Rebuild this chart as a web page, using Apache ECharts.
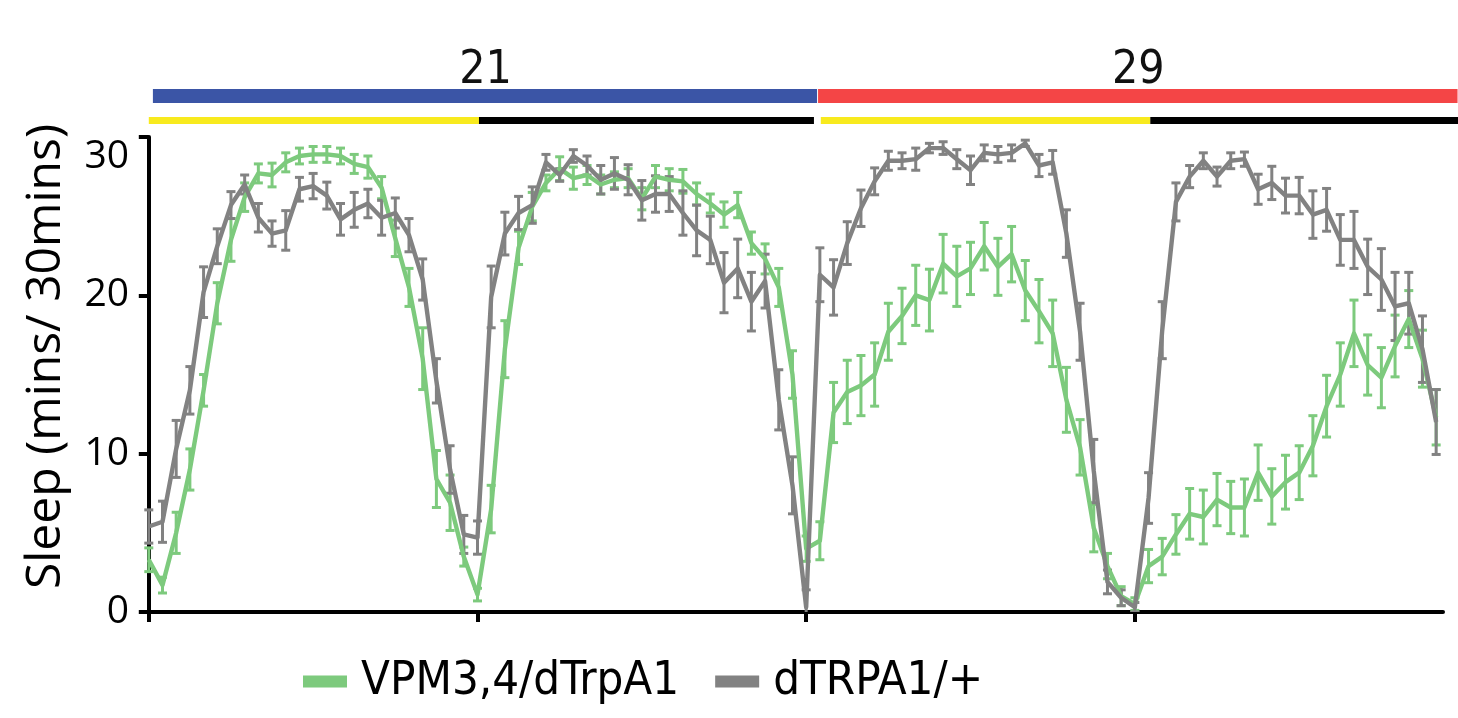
<!DOCTYPE html>
<html>
<head>
<meta charset="utf-8">
<script src="https://cdn.jsdelivr.net/npm/echarts@6/dist/echarts.min.js"></script>
<style>
  html, body { margin: 0; padding: 0; background: #fff; }
  #chart { width: 1458px; height: 718px; }
</style>
</head>
<body>
<div id="chart"></div>
<script>
// sleep per 30-min bin, 95 bins: 21C (bins 0-48) then 29C (bins 48-94)
const GREEN_NAME = 'VPM3,4/dTrpA1'
const GRAY_NAME = 'dTRPA1/+'

const GREEN = [
  3.3, 1.7, 5.0, 9.0, 14.0, 19.5, 23.5, 26.2, 27.7, 27.6,
  28.4, 28.8, 28.9, 28.9, 28.8, 28.3, 28.1, 26.8, 23.6, 20.5,
  16.0, 8.4, 6.9, 3.5, 1.1, 6.5, 16.6, 23.0, 25.6, 27.1,
  28.0, 27.4, 27.6, 27.0, 27.3, 27.4, 26.1, 27.5, 27.3, 27.2,
  26.4, 25.8, 25.1, 25.7, 23.3, 22.3, 20.5, 15.0, 4.0, 4.5,
  12.6, 13.9, 14.3, 15.0, 17.7, 18.7, 20.0, 19.7, 22.0, 21.2,
  21.7, 23.1, 21.8, 22.6, 20.3, 19.0, 17.6, 13.4, 10.4, 5.3,
  2.9, 1.0, 0.5, 2.9, 3.5, 4.9, 6.2, 6.0, 7.1, 6.6,
  6.6, 8.8, 7.3, 8.2, 8.8, 10.5, 13.0, 15.0, 17.6, 15.6,
  14.8, 16.8, 18.5, 16.0, 12.3
]
const GREEN_SEM = [
  0.75, 0.5, 1.3, 1.3, 1.0, 1.3, 1.35, 0.9, 0.6, 0.75,
  0.6, 0.5, 0.5, 0.5, 0.5, 0.6, 0.7, 0.7, 1.15, 1.2,
  1.95, 1.8, 1.75, 0.6, 0.4, 1.5, 1.8, 1.05, 0.9, 0.5,
  0.75, 0.7, 0.6, 0.6, 0.5, 0.6, 0.7, 0.7, 0.7, 0.75,
  0.7, 0.6, 0.8, 0.8, 0.7, 0.95, 1.2, 1.5, 0.8, 1.2,
  1.9, 2.0, 1.9, 2.0, 1.8, 1.75, 1.9, 1.95, 1.85, 1.9,
  1.65, 1.5, 1.8, 1.75, 1.9, 2.0, 2.1, 2.05, 1.75, 1.5,
  0.8, 0.6, 0.4, 1.05, 1.15, 1.25, 1.6, 1.7, 1.65, 1.65,
  1.8, 1.75, 1.75, 1.7, 1.7, 1.9, 1.95, 2.0, 2.1, 1.9,
  1.9, 1.95, 1.8, 1.8, 1.75
]
const GRAY = [
  5.4, 5.7, 10.3, 14.0, 20.2, 23.1, 25.7, 27.0, 24.9, 23.9,
  24.1, 26.7, 26.9, 26.3, 24.8, 25.4, 25.8, 24.9, 25.2, 23.8,
  21.0, 14.6, 9.0, 4.9, 4.7, 19.9, 23.9, 25.2, 25.7, 28.4,
  27.6, 28.8, 28.2, 27.3, 27.7, 27.3, 26.0, 26.4, 26.4, 25.2,
  24.1, 23.5, 20.8, 21.7, 19.6, 20.9, 13.4, 8.0, 0.3, 21.3,
  20.5, 23.3, 25.5, 27.2, 28.5, 28.5, 28.6, 29.3, 29.3, 28.6,
  27.9, 29.0, 28.9, 29.0, 29.6, 28.2, 28.4, 23.9, 17.7, 8.9,
  1.9, 0.9, 0.3, 7.2, 17.8, 25.9, 27.5, 28.5, 27.5, 28.5,
  28.6, 26.7, 27.1, 26.3, 26.3, 25.1, 25.4, 23.5, 23.5, 21.8,
  21.0, 19.3, 19.5, 16.6, 12.0
]
const GRAY_SEM = [
  1.05, 1.3, 1.8, 1.5, 1.6, 1.1, 0.85, 0.6, 0.9, 0.8,
  1.25, 0.75, 0.8, 0.85, 1.0, 1.1, 0.9, 1.1, 0.95, 1.05,
  1.3, 1.4, 1.5, 1.2, 1.05, 1.95, 1.35, 1.05, 1.15, 0.5,
  0.4, 0.4, 0.6, 0.9, 1.0, 0.95, 1.25, 1.15, 1.1, 1.4,
  1.6, 1.5, 1.9, 1.85, 1.85, 1.7, 1.9, 1.8, 1.1, 1.7,
  1.75, 1.35, 1.15, 0.85, 0.6, 0.5, 0.7, 0.3, 0.4, 0.6,
  0.9, 0.5, 0.5, 0.5, 0.2, 0.7, 0.75, 1.5, 1.8, 2.0,
  0.75, 0.5, 0.3, 1.6, 1.8, 1.2, 0.7, 0.5, 0.6, 0.5,
  0.45, 0.95, 1.05, 1.1, 1.15, 1.5, 1.35, 1.6, 1.8, 1.75,
  1.95, 2.15, 1.95, 2.1, 2.05
]

const Y_TICKS = [0, 10, 20, 30]
const X_TICKS = [0, 24, 48, 72]   // 12 h marks

// temperature and light/dark bars above the plot, in bin units
const TEMP_LABELS = ['21', '29']
const TEMP_FROM = [0.3, 48.85]
const TEMP_TO = [48.85, 95.6]
const LIGHT_PHASE = ['light', 'dark', 'light', 'dark']
const LIGHT_FROM = [0, 24.1, 49.05, 73.1]
const LIGHT_TO = [24.1, 48.55, 73.1, 95.6]

const C_GREEN = '#7dca7d'
const C_GRAY = '#828282'
const TEMP_FILL = ['#3b55a6', '#f44546']
const LIGHT_FILL = { light: '#f8ea1e', dark: '#000000' }
const NARROW = '"Liberation Sans Narrow","DejaVu Sans Condensed","Open Sans",sans-serif'
const SANS = '"Open Sans","Noto Sans",sans-serif'

const chart = echarts.init(document.getElementById('chart'), null, { renderer: 'canvas' })

function lineSeries(name, vals, color) {
  return {
    name, type: 'line', xAxisIndex: 0, yAxisIndex: 0,
    data: vals.map((v, i) => [i, v]),
    showSymbol: false, symbol: 'none',
    lineStyle: { color, width: 4.4, join: 'round' },
    itemStyle: { color },
    z: 3,
  }
}

function errSeries(name, vals, sem, color) {
  return {
    name: name + ' sem', type: 'custom', xAxisIndex: 0, yAxisIndex: 0,
    data: vals.map((v, i) => [i, v - sem[i], v + sem[i]]),
    clip: true,
    renderItem: (params, api) => {
      const x = api.value(0)
      const lo = api.coord([x, api.value(1)])
      const hi = api.coord([x, api.value(2)])
      const w = 4.5
      const st = { stroke: color, lineWidth: 3 }
      return {
        type: 'group', children: [
          { type: 'line', shape: { x1: lo[0], y1: lo[1], x2: hi[0], y2: hi[1] }, style: st },
          { type: 'line', shape: { x1: lo[0] - w, y1: lo[1], x2: lo[0] + w, y2: lo[1] }, style: st },
          { type: 'line', shape: { x1: hi[0] - w, y1: hi[1], x2: hi[0] + w, y2: hi[1] }, style: st },
        ]
      }
    },
    z: 3,
  }
}

const bandSeries = {
  type: 'custom', xAxisIndex: 1, yAxisIndex: 1, silent: true,
  data: TEMP_LABELS.map((t, i) => [TEMP_FROM[i], TEMP_TO[i], i]),
  renderItem: (params, api) => {
    const x0 = api.coord([api.value(0), 0])[0]
    const x1 = api.coord([api.value(1), 0])[0]
    const top = params.coordSys.y
    const i = api.value(2)
    return {
      type: 'group', children: [
        { type: 'rect', shape: { x: x0, y: top + 3, width: x1 - x0 - 1, height: 14 }, style: { fill: TEMP_FILL[i] } },
        { type: 'text', x: (x0 + x1) / 2, y: top - 15,
          style: { text: TEMP_LABELS[i], fill: '#111', font: '46px ' + NARROW, align: 'center', verticalAlign: 'middle' } },
      ]
    }
  }
}

const lightSeries = {
  type: 'custom', xAxisIndex: 1, yAxisIndex: 1, silent: true,
  data: LIGHT_PHASE.map((p, i) => [LIGHT_FROM[i], LIGHT_TO[i], i]),
  renderItem: (params, api) => {
    const x0 = api.coord([api.value(0), 0])[0]
    const x1 = api.coord([api.value(1), 0])[0]
    const top = params.coordSys.y
    const phase = LIGHT_PHASE[api.value(2)]
    return { type: 'rect', shape: { x: x0, y: top + 31, width: x1 - x0, height: 7 }, style: { fill: LIGHT_FILL[phase] } }
  }
}

chart.setOption({
  animation: false,
  backgroundColor: '#fff',
  grid: [
    { left: 144, right: 15, top: 137, bottom: 106, containLabel: false },
    { left: 144, right: 0, top: 86, height: 40, containLabel: false },
  ],
  legend: {
    data: [GREEN_NAME, GRAY_NAME],
    left: 298, top: 653,
    icon: 'rect', itemWidth: 44, itemHeight: 12, itemGap: 36,
    textStyle: { color: '#000', fontSize: 47, fontFamily: NARROW, padding: [0, 0, 0, 9] },
  },
  xAxis: [
    {
      type: 'value', gridIndex: 0, min: -0.35, max: 94.5,
      axisLine: { show: true, onZero: false, lineStyle: { color: '#000', width: 4 } },
      axisTick: { show: true, length: 10, customValues: X_TICKS, lineStyle: { color: '#000', width: 4 } },
      axisLabel: { show: false },
      splitLine: { show: false },
    },
    {
      type: 'value', gridIndex: 1, min: -0.35, max: 95.56, show: false,
    },
  ],
  yAxis: [
    {
      type: 'value', gridIndex: 0, min: 0, max: 30, interval: 10,
      name: 'Sleep (mins/ 30mins)', nameLocation: 'middle', nameGap: 74,
      nameTextStyle: { color: '#000', fontSize: 48, fontFamily: SANS, padding: [0, 0, 0, 36] },
      axisLine: { show: true, lineStyle: { color: '#000', width: 4 } },
      axisTick: { show: true, length: 10, lineStyle: { color: '#000', width: 4 } },
      axisLabel: { color: '#000', fontSize: 39, fontFamily: SANS, margin: 15,
        customValues: Y_TICKS, verticalAlignMaxLabel: 'top' },
      splitLine: { show: false },
    },
    { type: 'value', gridIndex: 1, min: 0, max: 1, show: false },
  ],
  series: [
    bandSeries,
    lightSeries,
    lineSeries(GREEN_NAME, GREEN, C_GREEN),
    errSeries(GREEN_NAME, GREEN, GREEN_SEM, C_GREEN),
    lineSeries(GRAY_NAME, GRAY, C_GRAY),
    errSeries(GRAY_NAME, GRAY, GRAY_SEM, C_GRAY),
  ],
})
</script>
</body>
</html>
